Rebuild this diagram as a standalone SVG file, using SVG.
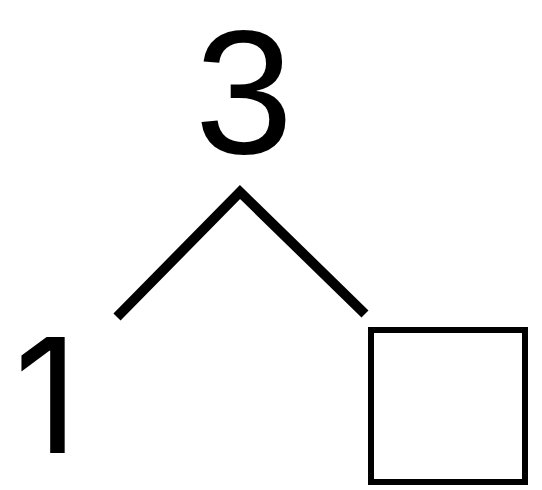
<svg xmlns="http://www.w3.org/2000/svg" width="542" height="490" viewBox="0 0 542 490">
<style>
.num{fill:#000}
.edge{fill:none;stroke:#000;stroke-width:10;stroke-linejoin:miter}
.box{fill:#fff;stroke:#000;stroke-width:6}
</style>
<rect width="542" height="490" fill="#fff"/>
<g id="connectors">
<polyline class="edge" points="117,317 240,192 365,314"/>
</g>
<g id="node-3">
<text class="num" x="244" y="152.5" font-size="177" text-anchor="middle" font-family="'Liberation Sans', Arial, sans-serif">3</text>
</g>
<g id="node-1">
<text class="num" x="14" y="453" font-size="159" font-family="Inter, 'Liberation Sans', sans-serif">1</text>
</g>
<g id="node-box">
<rect class="box" x="371" y="330" width="154" height="152"/>
</g>
</svg>
